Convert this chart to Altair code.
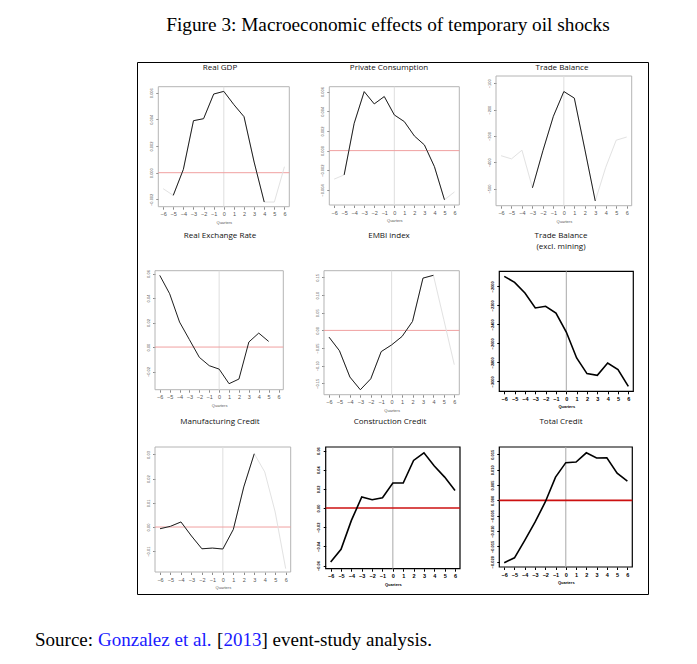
import altair as alt
import pandas as pd

quarters = list(range(-6, 7))

# ---- series ----
real_gdp = [-0.0012, -0.0017, 0.00025, 0.0039, 0.00405, 0.0059, 0.0061, 0.0051, 0.0042, 0.0008, -0.0022, -0.0022, 0.00045]
private_consumption = [-0.0029, -0.00247, 0.00278, 0.0060, 0.00475, 0.0055, 0.00363, 0.00295, 0.00149, 0.00058, -0.00163, -0.0050, -0.0042]
trade_balance = [-375, -387, -354, -497, -356, -225, -131, -156, -350, -547, -419, -316, -304]
real_exchange_rate = [0.0585, 0.0435, 0.0204, 0.0060, -0.0084, -0.0152, -0.0180, -0.0299, -0.0261, 0.0041, 0.0114, 0.0046, None]
embi_index = [-0.019, -0.0575, -0.132, -0.168, -0.137, -0.060, -0.041, -0.017, 0.0255, 0.148, 0.156, 0.030, -0.097]
trade_balance_ex_mining = [-1895, -1958, -2070, -2228, -2210, -2281, -2481, -2754, -2919, -2937, -2807, -2877, -3053]
manufacturing_credit = [-0.0007, 0.0003, 0.0021, -0.0037, -0.0090, -0.0087, -0.0091, -0.0010, 0.0166, 0.0303, 0.0228, 0.0062, -0.0172]
construction_credit = [-0.0563, -0.0431, -0.0129, 0.0115, 0.0087, 0.0108, 0.0261, 0.0261, 0.0497, 0.0577, 0.0438, 0.0323, 0.0184]
total_credit = [-0.0203, -0.0187, -0.0130, -0.0071, -0.0005, 0.0076, 0.0123, 0.0125, 0.0155, 0.0138, 0.0139, 0.0089, 0.0063]

# black (highlighted) windows
sig_windows = {
    "gdp": (-5, 4), "pc": (-5, 5), "tb": (-3, 3),
    "rer": (-6, 5), "embi": (-6, 4), "tbx": (-6, 6),
    "mc": (-6, 3), "cc": (-6, 6), "tc": (-6, 6),
}

# y tick labels
ticks_gdp = [-0.002, 0.0, 0.002, 0.004, 0.006]
ticks_pc = [-0.004, -0.002, 0.0, 0.002, 0.004, 0.006]
ticks_tb = [-500, -400, -300, -200, -100]
ticks_rer = [-0.02, 0.0, 0.02, 0.04, 0.06]
ticks_embi = [-0.15, -0.10, -0.05, 0.0, 0.05, 0.10, 0.15]
ticks_tbx = [-3000, -2800, -2600, -2400, -2200, -2000]
ticks_mc = [-0.01, 0.0, 0.01, 0.02, 0.03]
ticks_cc = [-0.06, -0.04, -0.02, 0.0, 0.02, 0.04, 0.06]
ticks_tc = [-0.020, -0.015, -0.010, -0.005, 0.0, 0.005, 0.010, 0.015]

W, H = 511, 532
XPAD = 6.48


def panel(key, title_lines, title_pos, values, frame, ydom, yticks, yfmt, bold):
    x0, x1, ytop, ybot = frame
    df = pd.DataFrame({"quarter": quarters, "value": values}).dropna()
    lo, hi = sig_windows[key]
    sig_df = df[(df.quarter >= lo) & (df.quarter <= hi)]
    lim = pd.DataFrame({"xa": [-XPAD], "xb": [XPAD], "ya": [ydom[0]], "yb": [ydom[1]],
                        "zero": [0.0]})

    ink = "#000000" if bold else "#8c8c8c"
    lab = "#000000" if bold else "#555555"
    weight = "bold" if bold else "normal"
    xscale = alt.Scale(domain=[-XPAD, XPAD], range=[x0, x1], nice=False, zero=False)
    yscale = alt.Scale(domain=ydom, range=[ybot, ytop], nice=False, zero=False)
    xaxis = alt.Axis(orient="bottom", values=quarters, format="d", offset=ybot - H,
                     domain=False, grid=False,
                     tickSize=2.5, tickColor=ink, labelFontSize=5.5, labelColor=lab,
                     labelPadding=2.5, labelFlush=False, labelOverlap=False,
                     labelFont="Liberation Sans", labelFontWeight=weight,
                     title="Quarters", titleFontSize=4, titleFontWeight=weight,
                     titleColor=lab, titlePadding=3, titleFont="Liberation Sans")
    yaxis = alt.Axis(orient="left", values=yticks, format=yfmt, offset=-x0,
                     domain=False, grid=False,
                     tickSize=2.5, tickColor=ink, labelFontSize=4, labelColor=lab,
                     labelAngle=270, labelAlign="center", labelBaseline="bottom",
                     labelPadding=2.5, labelFlush=False, labelOverlap=False,
                     labelFont="Liberation Sans", labelFontWeight=weight,
                     title=None)

    def X(f):
        return alt.X(f, type="quantitative", scale=xscale, axis=xaxis)

    def Y(f):
        return alt.Y(f, type="quantitative", scale=yscale, axis=yaxis)

    layers = []
    frame_mark = alt.Chart(lim).mark_rect(
        fillOpacity=0, stroke=ink if bold else "#b4b4b4", strokeWidth=1.2 if bold else 1
    ).encode(x=X("xa"), x2="xb", y=Y("ya"), y2="yb")
    layers.append(frame_mark)

    vline = alt.Chart(lim).mark_rule(
        color="#a8a8a8" if bold else "#dedede", strokeWidth=1
    ).encode(x=X("zero"), y=Y("ya"), y2="yb")
    layers.append(vline)

    if ydom[0] < 0 < ydom[1]:
        hline = alt.Chart(lim).mark_rule(
            color="#cc1010" if bold else "#f0a0a0", strokeWidth=1.6 if bold else 1
        ).encode(x=X("xa"), x2="xb", y=Y("zero"))
        layers.append(hline)

    if len(sig_df) < len(df):
        grey = alt.Chart(df).mark_line(color="#e2e2e2", strokeWidth=1).encode(
            x=X("quarter"), y=Y("value"))
        layers.append(grey)

    black = alt.Chart(sig_df).mark_line(
        color="#000000" if bold else "#1e1e1e", strokeWidth=1.6 if bold else 1
    ).encode(x=X("quarter"), y=Y("value"))
    layers.append(black)

    tx, ty = title_pos
    for i, line in enumerate(title_lines):
        t = alt.Chart(pd.DataFrame({"label": [line]})).mark_text(
            font="Open Sans", fontSize=8, color="#111111", align="center", baseline="middle"
        ).encode(x=alt.value(tx), y=alt.value(ty + i * 11), text="label:N")
        layers.append(t)

    return alt.layer(*layers)


panels = [
    panel("gdp", ["Real GDP"], (83, 6), real_gdp,
          (21.3, 152.3, 24.7, 144.7), [-0.00255, 0.00645], ticks_gdp, ".3f", False),
    panel("pc", ["Private Consumption"], (252, 6), private_consumption,
          (192.3, 322.3, 24.7, 143.0), [-0.00553, 0.0065], ticks_pc, ".3f", False),
    panel("tb", ["Trade Balance"], (425, 6), trade_balance,
          (359.0, 494.7, 14.0, 143.7), [-565, -72], ticks_tb, "d", False),
    panel("rer", ["Real Exchange Rate"], (83, 174), real_exchange_rate,
          (18.0, 146.3, 208.7, 327.7), [-0.0348, 0.0623], ticks_rer, ".2f", False),
    panel("embi", ["EMBI index"], (252, 174), embi_index,
          (187.0, 322.3, 208.7, 332.7), [-0.182, 0.169], ticks_embi, ".2f", False),
    panel("tbx", ["Trade Balance", "(excl. mining)"], (424, 174), trade_balance_ex_mining,
          (362.3, 496.3, 209.3, 329.3), [-3105, -1842], ticks_tbx, "d", True),
    panel("mc", ["Manufacturing Credit"], (83, 360), manufacturing_credit,
          (18.0, 153.7, 385.0, 510.0), [-0.0186, 0.0331], ticks_mc, ".2f", False),
    panel("cc", ["Construction Credit"], (253, 360), construction_credit,
          (188.7, 323.0, 385.0, 506.7), [-0.0633, 0.0637], ticks_cc, ".2f", True),
    panel("tc", ["Total Credit"], (424, 360), total_credit,
          (362.3, 495.3, 385.0, 505.0), [-0.0217, 0.0174], ticks_tc, ".3f", True),
]

fig_title = "Figure 3: Macroeconomic effects of temporary oil shocks"
source_parts = ["Source:", "Gonzalez et al.", "[", "2013", "] event-study analysis."]
source_colors = ["#000000", "#1a1aff", "#000000", "#1a1aff", "#000000"]
source_x = [-102, -39, 80, 86.5, 124.5]

extra = []
extra.append(
    alt.Chart(pd.DataFrame({"label": [fig_title]})).mark_text(
        font="Liberation Serif", fontSize=19.3, color="#000000", align="center", baseline="middle"
    ).encode(x=alt.value(251), y=alt.value(-37), text="label:N")
)
for txt, col, sx in zip(source_parts, source_colors, source_x):
    extra.append(
        alt.Chart(pd.DataFrame({"label": [txt]})).mark_text(
            font="Liberation Serif", fontSize=19, color=col, align="left", baseline="middle"
        ).encode(x=alt.value(sx), y=alt.value(578), text="label:N")
    )

chart = (
    alt.layer(*panels, *extra)
    .resolve_scale(x="independent", y="independent")
    .properties(
        width=W, height=H,
        autosize=alt.AutoSizeParams(type="none"),
        padding={"left": 129, "top": 54, "right": 41, "bottom": 62},
        background="white",
    )
    .configure_view(stroke="#000000", strokeWidth=1)
)

chart.save("out.html", embed_options={"renderer": "svg", "actions": False})
